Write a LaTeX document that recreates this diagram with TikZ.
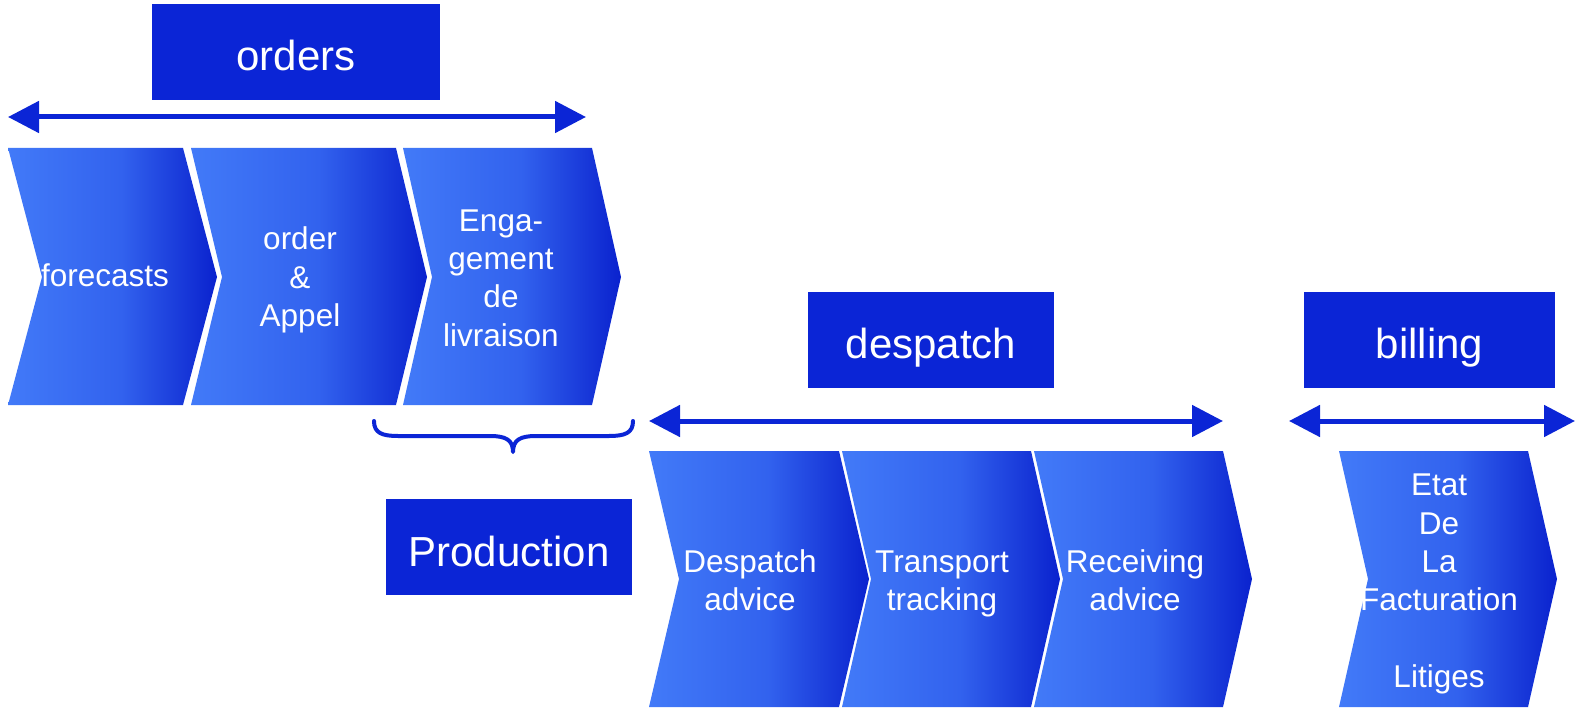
\documentclass[tikz,border=0pt]{standalone}
\usepackage{fontspec}
\setmainfont{Liberation Sans}
\usetikzlibrary{arrows.meta}

\definecolor{boxblue}{HTML}{0B25D6}
\definecolor{chevlight}{HTML}{427AF8}
\definecolor{chevmid}{HTML}{3262EE}
\definecolor{chevdark}{HTML}{0A22CE}

% left-to-right fill of the chevrons: light most of the way, dark at the tip
\pgfdeclarehorizontalshading{chevgrad}{100bp}{%
  color(0bp)=(chevlight); color(25bp)=(chevlight);
  color(52bp)=(chevmid); color(75bp)=(chevdark); color(100bp)=(chevdark)}

% chevron: left x, right x, tip x, top y, middle y, bottom y
\newcommand\chevshape[6]{%
  \path[chevfill] (#1,#4) -- (#2,#4) -- (#3,#5) -- (#2,#6) -- (#1,#6)
    -- ({#1+#3-#2},#5) -- cycle;}

\tikzset{
  chevfill/.style={shading=chevgrad},
  labelbox/.style={fill=boxblue, text=white, inner sep=0pt,
    text height=38pt, text depth=0pt,
    font=\fontsize{42}{50}\selectfont},
  chevtext/.style={text=white, align=center, inner sep=0pt,
    font=\fontsize{31.5}{38.3}\selectfont},
  spanarrow/.style={draw=boxblue, line width=5pt,
    {Triangle[length=31pt,width=31pt]}-{Triangle[length=31pt,width=31pt]}},
  bracestroke/.style={draw=boxblue, line width=4pt, line cap=round, line join=round},
}

\begin{document}
\begin{tikzpicture}[x=1pt,y=-1pt]
  \useasboundingbox (0,0) rectangle (1578,711);

  % ordering chevrons
  \chevshape{8}{183}{217}{148}{277}{405}
  \chevshape{191}{396}{427}{148}{277}{405}
  \chevshape{403}{592}{621}{148}{277}{405}
  % despatch chevrons
  \chevshape{649}{839}{869}{451}{579}{707}
  \chevshape{842}{1031}{1060}{451}{579}{707}
  \chevshape{1034}{1223}{1252}{451}{579}{707}
  % billing chevron
  \chevshape{1339}{1528}{1557}{451}{579}{707}

  % chevron captions
  \node[chevtext] (forecasts) at (105,275) {forecasts};
  \node[chevtext] (order) at (300,280) {order\\\&\\Appel};
  \node[chevtext] (engagement) at (501,278) {Enga-\\gement\\de\\livraison};
  \node[chevtext] (despadv) at (750,580) {Despatch\\advice};
  \node[chevtext] (transport) at (942,584) {Transport\\tracking};
  \node[chevtext] (receiving) at (1135,580) {Receiving\\advice};
  \node[chevtext] (facturation) at (1439,584) {Etat\\De\\La\\Facturation\\\\Litiges};

  % section headings
  \node[labelbox, minimum width=288pt, minimum height=96pt] (orders) at (296,52) {orders};
  \node[labelbox, minimum width=246pt, minimum height=96pt] (despatch) at (931,339.5) {despatch};
  \node[labelbox, minimum width=251pt, minimum height=96pt] (billing) at (1429.5,339.5) {billing};
  \node[labelbox, minimum width=246pt, minimum height=96pt] (production) at (509,547) {Production};

  % span arrows
  \coordinate (ordA) at (8,117);
  \coordinate (ordB) at (586,117);
  \coordinate (desA) at (649,421);
  \coordinate (desB) at (1223,421);
  \coordinate (bilA) at (1289,421);
  \coordinate (bilB) at (1575,421);
  \draw[spanarrow] (ordA) -- (ordB);
  \draw[spanarrow] (desA) -- (desB);
  \draw[spanarrow] (bilA) -- (bilB);

  % brace over the production step
  \coordinate (brL) at (374,421);
  \coordinate (brR) at (633,421);
  \coordinate (brTip) at (513,452);
  \draw[bracestroke] (brL) .. controls (374,433) and (382,436) .. (398,436)
    -- (490,436) .. controls (506,436) and (513,440) .. (brTip)
    .. controls (513,440) and (520,436) .. (536,436)
    -- (609,436) .. controls (625,436) and (633,433) .. (brR);
\end{tikzpicture}
\end{document}
